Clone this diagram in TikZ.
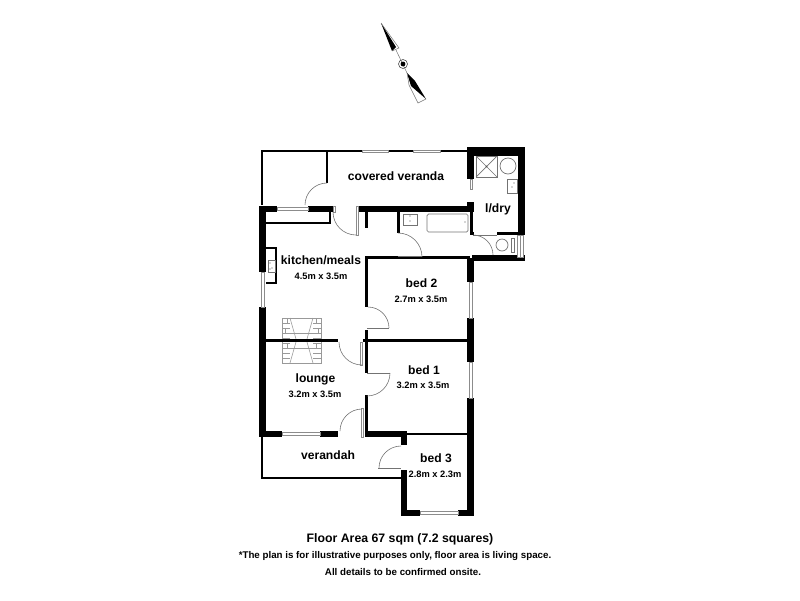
\documentclass[tikz,border=0pt]{standalone}
\usepackage{fontspec}
\setmainfont{Liberation Sans}
\tikzset{
  wall/.style={fill=black,draw=none},
  thin/.style={draw=black,line width=1.4pt},
  win/.style={draw=black!45,fill=white,line width=0.6pt},
  swing/.style={draw=black!55,line width=0.6pt},
  fit/.style={draw=black!55,line width=0.7pt},
  brick/.style={draw=black!40,line width=0.6pt},
  room/.style={font=\bfseries\fontsize{12.1}{14}\selectfont,inner sep=0pt},
  dim/.style={font=\bfseries\fontsize{9.3}{11}\selectfont,inner sep=0pt},
  foot/.style={font=\bfseries\fontsize{9.75}{12}\selectfont,inner sep=0pt},
}
\begin{document}
\begin{tikzpicture}[x=1pt,y=-1pt]
\useasboundingbox (0,0) rectangle (800,600);
% verandah outlines
\draw[thin] (262,205) -- (262,151) -- (468,151);
\draw[thin] (327,151) -- (327,183);
\draw[thin] (262,437) -- (262,478) -- (402,478);
\draw[thin] (266,223) -- (330,223) -- (330,212);
\draw[thin] (266,248) -- (276,248) -- (276,283) -- (266,283);
% walls
\fill[wall] (259,206) rectangle (266,272);
\fill[wall] (259,206) rectangle (277,212);
\fill[wall] (308,206) rectangle (333,212);
\fill[wall] (359,206) rectangle (474,212);
\fill[wall] (467,202) rectangle (474,212);
\fill[wall] (470,212) rectangle (473,235);
\fill[wall] (467,147) rectangle (525,156);
\fill[wall] (467,147) rectangle (474,179);
\fill[wall] (518,147) rectangle (525,235);
\fill[wall] (497,232) rectangle (525,235);
\fill[wall] (470,232) rectangle (474,235);
\fill[wall] (365,212) rectangle (367.5,228);
\fill[wall] (397,212) rectangle (399.5,233);
\fill[wall] (365,256) rectangle (470,259);
\fill[wall] (472,255) rectangle (525,261);
\fill[wall] (467,258) rectangle (474,282);
\fill[wall] (467,318) rectangle (474,362);
\fill[wall] (467,398) rectangle (474,516);
\fill[wall] (365,256) rectangle (368,307);
\fill[wall] (365,330) rectangle (368,373);
\fill[wall] (365,395) rectangle (368,437);
\fill[wall] (259,307) rectangle (266,437);
\fill[wall] (363,339) rectangle (469,342);
\fill[wall] (259,431) rectangle (282,437);
\fill[wall] (320,431) rectangle (338,437);
\fill[wall] (365,431) rectangle (407,437);
\fill[wall] (407,433) rectangle (469,435);
\fill[wall] (401,437) rectangle (407,445);
\fill[wall] (401,470) rectangle (407,516);
\fill[wall] (401,510) rectangle (420,516);
\fill[wall] (458,510) rectangle (474,516);
% windows
\draw[win] (362,150.2) rectangle (388,151.8);
\draw[win] (413,150.2) rectangle (440,151.8);
\draw[win] (277,207.5) rectangle (308,210.5);
\draw[win] (333,206) rectangle (335,212);
\draw[win] (470,179) rectangle (472,189);
\draw[win] (261,272) rectangle (264,307);
\draw[win] (469,282) rectangle (472,318);
\draw[win] (469,362) rectangle (472,398);
\draw[win] (282,432.5) rectangle (320,435.5);
\draw[win] (420,511.5) rectangle (458,514.5);
\draw[win] (517,235) rectangle (523,257);
\draw[win] (520,235) -- (520,257);
% door leaves
\draw[win] (356,206) rectangle (358,235);
\draw[win] (360.5,342) rectangle (362.5,365);
\draw[win] (361,408) rectangle (363,437);
\draw[swing] (367,328) -- (389,328);
\draw[swing] (367,373) -- (390,373);
\draw[swing] (378,468) -- (401,468);
\draw[swing] (398,256.5) -- (422,256.5);
\draw[swing] (473,235) -- (497,235);
% door swings (y axis points down, so angles run clockwise on the page)
\draw[swing] (327,183) arc[start angle=270,end angle=180,radius=22];
\draw[swing] (333,212) arc[start angle=180,end angle=90,radius=23];
\draw[swing] (398,233) arc[start angle=270,end angle=360,radius=24];
\draw[swing] (473,235) arc[start angle=270,end angle=360,radius=20];
\draw[swing] (368,307) arc[start angle=270,end angle=360,radius=21];
\draw[swing] (339,342) arc[start angle=180,end angle=90,radius=23];
\draw[swing] (390,373) arc[start angle=0,end angle=90,radius=23];
\draw[swing] (340,431) arc[start angle=180,end angle=270,radius=22];
\draw[swing] (401,446) arc[start angle=270,end angle=180,radius=22];
% fixtures
\draw[fit] (476,156) rectangle (497,177);
\draw[fit] (476,156) -- (497,177) (497,156) -- (476,177);
\fill[black!70] (486.5,166.5) circle (0.9);
\draw[fit] (508,166) circle (8);
\draw[fit] (507,179) rectangle (517,193);
\fill[black!70] (512,187) circle (0.6) (514,183) circle (0.6);
\draw[fit] (403,214) rectangle (417,225);
\fill[black!70] (410,221) circle (0.6) (410,216) circle (0.6);
\draw[fit,rounded corners=1.5pt] (427,214) rectangle (468,232);
\fill[black!70] (465,222) circle (0.7);
\draw[fit] (502,245) circle (6);
\draw[fit] (511,238) rectangle (514,252);
\draw[fit] (268,260) rectangle (275,272);
\fill[black!70] (270,263) circle (0.7) (272,268) circle (0.7) (270,269) circle (0.7);
% chimney bricks
\foreach \yy in {318,323,328,333,338,343,348,353,358} {
  \draw[brick] (282,\yy) -- (290,\yy) (313,\yy) -- (321,\yy);
}
\draw[brick] (282,318) rectangle (321,363);
\draw[brick] (287,318) -- (287,323) (316,318) -- (316,323) (285,328) -- (285,333) (318,328) -- (318,333) (287,343) -- (287,348) (316,343) -- (316,348);
\draw[brick] (290,318) -- (296,339) (313,318) -- (307,339) (290,363) -- (296,342) (313,363) -- (307,342);
\draw[brick] (282,333) -- (321,333) (282,348) -- (321,348);
\fill[wall] (266,339) rectangle (338,342);
% compass
\fill[black] (381,23) -- (392,51) -- (396,47) -- cycle;
\draw[black!55,line width=0.5pt] (381,23) -- (399,48) -- (392,51);
\draw[black!55,line width=0.5pt] (396,50) -- (407,73) (409,85) -- (418,103) -- (426,99);
\fill[black] (407,73) -- (415,81) -- (426,99) -- (411,86) -- cycle;
\draw[black!55,line width=0.5pt] (407,73) -- (409,85);
\draw[black!70,line width=0.6pt] (403,64) circle (4.5);
\fill[black] (403,64) circle (2.4);
% labels
\node[room] (tveranda) at (396,176) {covered veranda};
\node[room] (tldry) at (498,209) {l/dry};
\node[room] (tkitchen) at (321,260.5) {kitchen/meals};
\node[dim] (dkitchen) at (321,276.5) {4.5m x 3.5m};
\node[room] (tbedb) at (421.5,283.5) {bed 2};
\node[dim] (dbedb) at (421,299) {2.7m x 3.5m};
\node[room] (tbeda) at (424,370) {bed 1};
\node[dim] (dbeda) at (423,385.5) {3.2m x 3.5m};
\node[room] (tlounge) at (315.5,379) {lounge};
\node[dim] (dlounge) at (315,394) {3.2m x 3.5m};
\node[room] (tverandah) at (328,455.5) {verandah};
\node[room] (tbedc) at (436,458.5) {bed 3};
\node[dim] (dbedc) at (435,474) {2.8m x 2.3m};
\node[font=\bfseries\fontsize{12.3}{14}\selectfont,inner sep=0pt] (ffloor) at (400,539) {Floor Area 67 sqm (7.2 squares)};
\node[foot] (fplan) at (395,556) {*The plan is for illustrative purposes only, floor area is living space.};
\node[foot] (fdetails) at (403,572.5) {All details to be confirmed onsite.};
\end{tikzpicture}
\end{document}
